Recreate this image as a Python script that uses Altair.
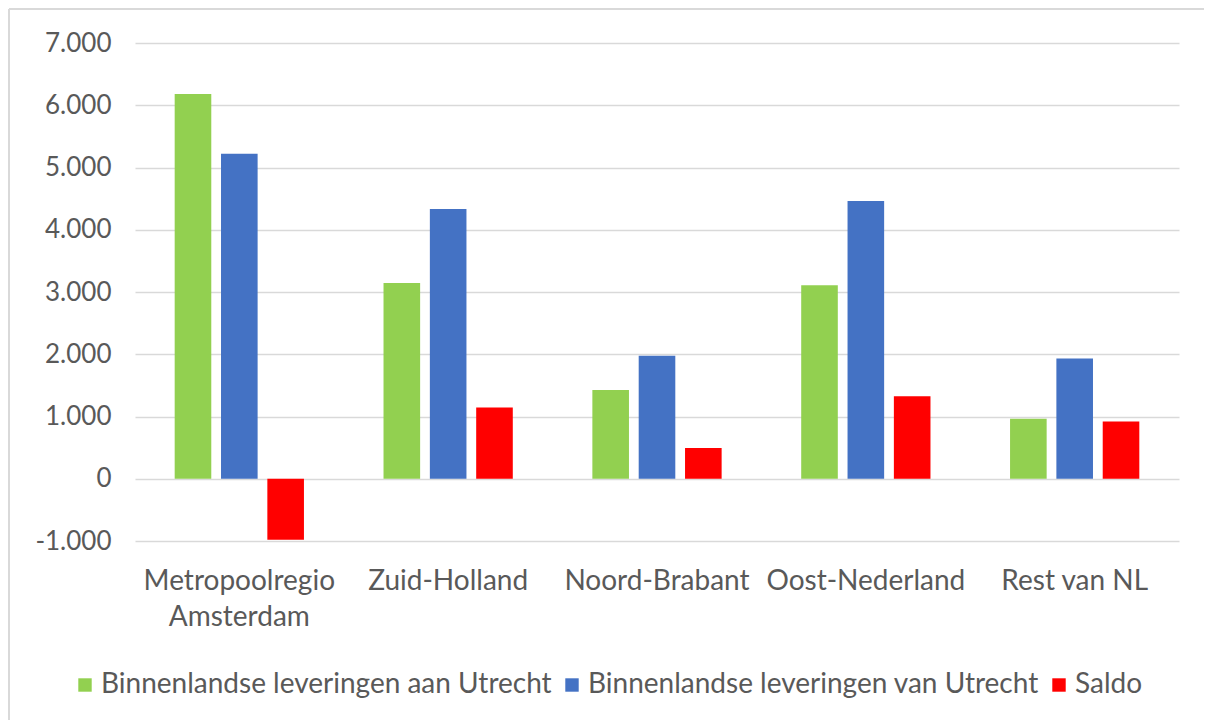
import altair as alt
import pandas as pd

regions = ["Metropoolregio Amsterdam", "Zuid-Holland", "Noord-Brabant", "Oost-Nederland", "Rest van NL"]
series = ["Binnenlandse leveringen aan Utrecht", "Binnenlandse leveringen van Utrecht", "Saldo"]
aan = [6180, 3145, 1425, 3110, 965]
van = [5220, 4335, 1975, 4460, 1930]
saldo = [-980, 1145, 495, 1325, 920]
colors = ["#92D050", "#4472C4", "#FF0000"]
y_ticks = [-1000, 0, 1000, 2000, 3000, 4000, 5000, 6000, 7000]

rows = []
for i, r in enumerate(regions):
    for s, vals in zip(series, [aan, van, saldo]):
        rows.append({"regio": r, "reeks": s, "waarde": vals[i]})
df = pd.DataFrame(rows)

FONT = "Lato"
TXT = "#595959"

bars = alt.Chart(df).mark_bar().encode(
    x=alt.X("regio:N", sort=regions,
            scale=alt.Scale(paddingInner=0.381, paddingOuter=0.19),
            axis=alt.Axis(title=None, labelAngle=0, domain=False, ticks=False, grid=False,
                          labelFont=FONT, labelFontSize=28, labelColor=TXT,
                          labelPadding=26, labelLineHeight=36, labelLimit=400,
                          labelOverlap=False,
                          labelExpr="datum.value == 'Metropoolregio Amsterdam' ? ['Metropoolregio', 'Amsterdam'] : datum.value")),
    xOffset=alt.XOffset("reeks:N", sort=series, scale=alt.Scale(paddingInner=0.21, paddingOuter=0)),
    y=alt.Y("waarde:Q", scale=alt.Scale(domain=[-1000, 7000], nice=False),
            axis=alt.Axis(title=None, values=y_ticks, domain=False, ticks=False,
                          grid=True, gridColor="#d9d9d9", gridWidth=1.5,
                          labelFont=FONT, labelFontSize=26, labelColor=TXT, labelPadding=24,
                          labelExpr="replace(replace(format(datum.value, ','), ',', '.'), '\u2212', '-')")),
    color=alt.Color("reeks:N", sort=series,
                    scale=alt.Scale(domain=series, range=colors),
                    legend=alt.Legend(title=None, orient="none", direction="horizontal",
                                      legendX=-64, legendY=628,
                                      symbolType="square", symbolSize=180, symbolStrokeWidth=0,
                                      labelFont=FONT, labelFontSize=28, labelColor=TXT,
                                      labelLimit=700, labelOffset=2, columnPadding=6)),
)

frame_left = alt.Chart(pd.DataFrame({"f": [0]})).mark_rule(
    color="#d9d9d9", strokeWidth=2
).encode(x=alt.value(-126), y=alt.value(-34), y2=alt.value(3000))

frame_top = alt.Chart(pd.DataFrame({"f": [0]})).mark_rule(
    color="#d9d9d9", strokeWidth=2
).encode(x=alt.value(-126), x2=alt.value(3000), y=alt.value(-34))

chart = alt.layer(frame_left, frame_top, bars).properties(
    width=1044, height=498,
    autosize=alt.AutoSizeParams(type="none"),
    padding={"left": 127, "top": 35, "right": 25, "bottom": 179},
    background="white",
).configure_view(stroke=None)

chart.save("out.html", embed_options={"renderer": "svg", "actions": False})
